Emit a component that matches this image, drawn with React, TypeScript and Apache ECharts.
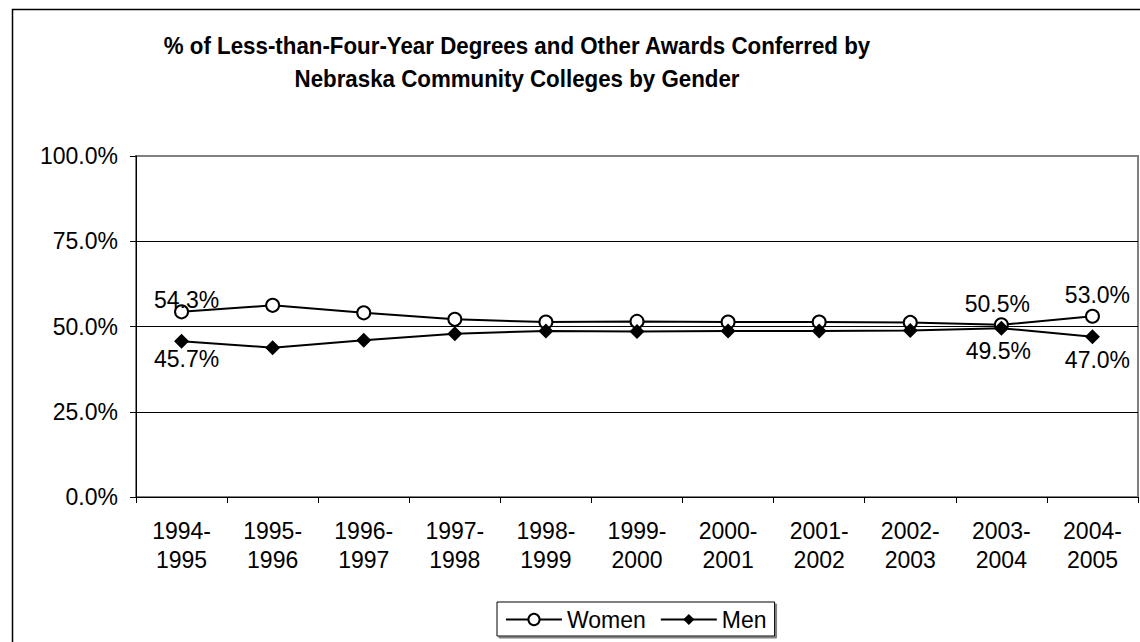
import React, { useEffect, useRef } from "react";
import * as echarts from "echarts";

const categories = [
  "1994-\n1995", "1995-\n1996", "1996-\n1997", "1997-\n1998", "1998-\n1999", "1999-\n2000",
  "2000-\n2001", "2001-\n2002", "2002-\n2003", "2003-\n2004", "2004-\n2005",
];
const women = [54.3, 56.2, 54.0, 52.1, 51.3, 51.5, 51.3, 51.3, 51.2, 50.5, 53.0];
const men = [45.7, 43.8, 46.0, 47.9, 48.7, 48.5, 48.7, 48.7, 48.8, 49.5, 47.0];
const labeledIndices = [0, 9, 10];
const titleLines = [
  "% of Less-than-Four-Year Degrees and Other Awards Conferred by",
  "Nebraska Community Colleges by Gender",
];
const yTicks = { min: 0, max: 100, interval: 25 };

const FONT = "'Liberation Sans', Arial, Helvetica, sans-serif";
const FS = 23;

const womenOffsets: Record<number, number[]> = { 0: [5, 9], 9: [-4, 0], 10: [5, 0] };
const menOffsets: Record<number, number[]> = { 0: [5, -5], 9: [-3, 0], 10: [5, 0] };

export default function App() {
  const ref = useRef<HTMLDivElement>(null);
  useEffect(() => {
    if (!ref.current) return;
    const chart = echarts.init(ref.current, undefined, { renderer: "svg" });
    const mkData = (arr: number[], offsets: Record<number, number[]>) =>
      arr.map((v, i) => ({
        value: v,
        label: labeledIndices.includes(i)
          ? { show: true, offset: offsets[i] || [0, 0] }
          : { show: false },
      }));
    const titleText = (text: string, y: number) => ({
      type: "text",
      x: 517,
      y,
      scaleX: 0.93,
      style: {
        text,
        font: `bold 24px ${FONT}`,
        fill: "#000",
        textAlign: "center",
        textVerticalAlign: "middle",
      },
    });
    chart.setOption({
      animation: false,
      backgroundColor: "#ffffff",
      textStyle: { fontFamily: FONT },
      graphic: [
        {
          type: "rect",
          silent: true,
          shape: { x: 12.5, y: 9.5, width: 1200, height: 700 },
          style: { fill: "none", stroke: "#000", lineWidth: 1.5 },
          z: -10,
        },
        titleText(titleLines[0], 45.5),
        titleText(titleLines[1], 79),
      ],
      grid: {
        left: 136,
        right: 2,
        top: 156,
        bottom: 145,
        show: true,
        borderColor: "#808080",
        borderWidth: 2,
        backgroundColor: "transparent",
      },
      legend: {
        left: 497,
        top: 602,
        itemWidth: 56,
        itemHeight: 14,
        itemGap: 14,
        padding: [6, 8, 5, 8],
        borderColor: "#000",
        borderWidth: 1,
        backgroundColor: "#fff",
        shadowColor: "#808080",
        shadowOffsetX: 2,
        shadowOffsetY: 2,
        shadowBlur: 0,
        textStyle: { fontSize: FS, color: "#000", fontFamily: FONT, padding: [0, 0, 0, 0] },
        data: ["Women", "Men"],
      },
      xAxis: {
        type: "category",
        data: categories,
        boundaryGap: true,
        axisLine: { show: true, lineStyle: { color: "#000", width: 1 } },
        axisTick: { show: true, length: 6, lineStyle: { color: "#000" } },
        axisLabel: {
          color: "#000",
          fontSize: FS,
          lineHeight: 28.5,
          margin: 20,
          fontFamily: FONT,
          interval: 0,
        },
        splitLine: { show: false },
      },
      yAxis: {
        type: "value",
        min: yTicks.min,
        max: yTicks.max,
        interval: yTicks.interval,
        axisLine: { show: true, lineStyle: { color: "#000", width: 1 } },
        axisTick: { show: true, length: 6, lineStyle: { color: "#000" } },
        axisLabel: {
          color: "#000",
          fontSize: FS,
          margin: 18,
          fontFamily: FONT,
          formatter: (v: number) => v.toFixed(1) + "%",
        },
        splitLine: {
          show: true,
          lineStyle: { color: ["#000", "#000", "#000", "#000", "#808080"], width: 1 },
        },
      },
      series: [
        {
          name: "Women",
          type: "line",
          data: mkData(women, womenOffsets),
          symbol: "circle",
          symbolSize: 13,
          lineStyle: { color: "#000", width: 2 },
          itemStyle: { color: "#fff", borderColor: "#000", borderWidth: 2 },
          label: {
            position: "top",
            distance: 2,
            color: "#000",
            fontSize: FS,
            fontFamily: FONT,
            formatter: (p: any) => p.value.toFixed(1) + "%",
          },
          z: 3,
        },
        {
          name: "Men",
          type: "line",
          data: mkData(men, menOffsets),
          symbol: "diamond",
          symbolSize: 15,
          lineStyle: { color: "#000", width: 2 },
          itemStyle: { color: "#000", borderColor: "#000", borderWidth: 0 },
          label: {
            position: "bottom",
            distance: 4,
            color: "#000",
            fontSize: FS,
            fontFamily: FONT,
            formatter: (p: any) => p.value.toFixed(1) + "%",
          },
          z: 3,
        },
      ],
    });
    return () => chart.dispose();
  }, []);
  return (
    <div
      ref={ref}
      style={{ position: "absolute", left: 0, top: 0, width: 1140, height: 642 }}
    />
  );
}
